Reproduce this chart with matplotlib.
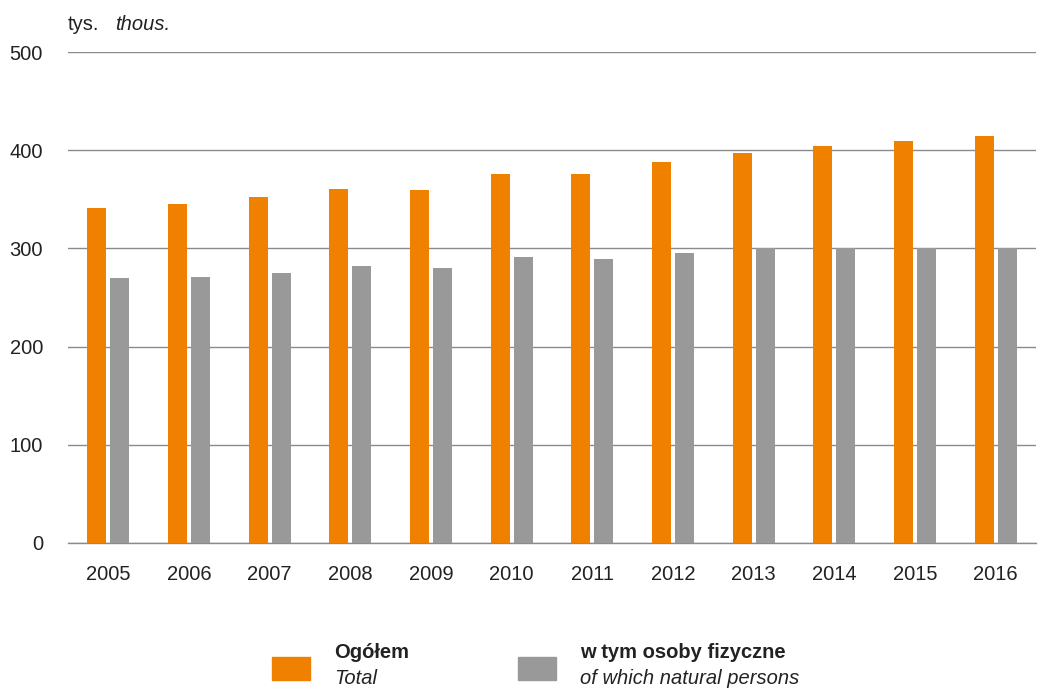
import numpy as np
import matplotlib
matplotlib.use("Agg")
import matplotlib.pyplot as plt
from matplotlib.patches import Rectangle

# -----------------------------
# Data (thousands)
# -----------------------------
years = ["2005", "2006", "2007", "2008", "2009", "2010",
         "2011", "2012", "2013", "2014", "2015", "2016"]
total = [341, 345, 352, 360, 359, 376, 376, 388, 397, 404, 409, 414]
natural_persons = [270, 271, 275, 282, 280, 291, 289, 295, 300, 300, 300, 300]

y_ticks = [0, 100, 200, 300, 400, 500]

ORANGE = "#F08000"
GREY = "#999999"
GRID = "#8A8A8A"
TXT = "#222222"
FS = 14.5

plt.rcParams["font.family"] = ["Liberation Sans", "DejaVu Sans"]

# -----------------------------
# Figure
# -----------------------------
fig = plt.figure(figsize=(10.38, 6.88), dpi=100)
ax = fig.add_axes([0.0655, 0.2108, 0.9325, 0.7136])

x = np.arange(len(years))
width = 0.236
offset = 0.143

ax.bar(x - offset, total, width, color=ORANGE, zorder=3)
ax.bar(x + offset, natural_persons, width, color=GREY, zorder=3)

ax.set_xlim(-0.5, len(years) - 0.5)
ax.set_ylim(0, 500)
ax.set_yticks(y_ticks)
ax.set_xticks(x)
ax.set_xticklabels(years)
ax.yaxis.grid(True, color=GRID, linewidth=1.0, zorder=0)

for s in ["top", "right", "left"]:
    ax.spines[s].set_visible(False)
ax.spines["bottom"].set_color(GRID)
ax.spines["bottom"].set_linewidth(1.0)

ax.tick_params(axis="both", length=0, labelsize=FS, colors=TXT)
ax.tick_params(axis="y", pad=18)
ax.tick_params(axis="x", pad=16)

# unit label
fig.text(68 / 1038, 1 - 25 / 688, "tys.", fontsize=FS, va="center", ha="left", color=TXT)
fig.text(115 / 1038, 1 - 25 / 688, "thous.", fontsize=FS, style="italic", va="center",
         ha="left", color=TXT)

# -----------------------------
# Legend
# -----------------------------
W, H = 1038, 688
legend_items = [
    (272, ORANGE, "Ogółem", "Total"),
    (518, GREY, "w tym osoby fizyczne", "of which natural persons"),
]
for px, col, pl, en in legend_items:
    fig.add_artist(Rectangle((px / W, 1 - 680 / H), 38 / W, 23 / H,
                             transform=fig.transFigure, color=col))
    fig.text((px + 62) / W, 1 - 652 / H, pl, fontsize=FS, fontweight="bold",
             va="center", ha="left", color=TXT)
    fig.text((px + 62) / W, 1 - 678 / H, en, fontsize=FS, style="italic",
             va="center", ha="left", color=TXT)

fig.savefig("out.png", dpi=100)
